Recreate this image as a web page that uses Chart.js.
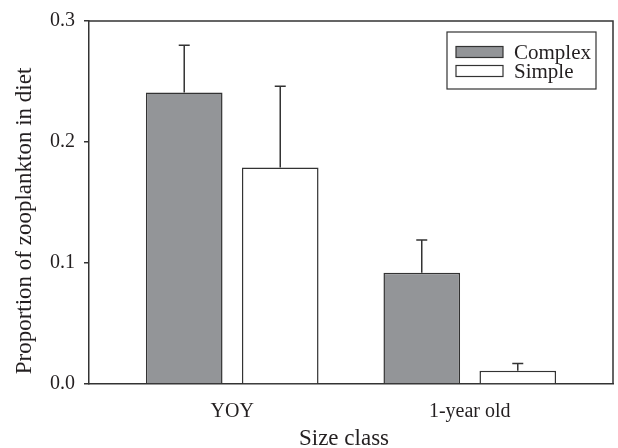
<!DOCTYPE html>
<html>
<head>
<meta charset="utf-8">
<script src="https://cdn.jsdelivr.net/npm/chart.js@4.4.0/dist/chart.umd.min.js"></script>
<style>
  html, body { margin: 0; padding: 0; background: #fff; }
  #wrap { width: 618px; height: 448px; position: relative; }
</style>
</head>
<body>
<div id="wrap"><canvas id="c" width="618" height="448"></canvas></div>
<script>
// Size classes and diet proportions (mean and upper error)
const categories = ['YOY', '1-year old'];
const complexValues = [0.241, 0.092];
const complexErrors = [0.039, 0.027];
const simpleValues = [0.179, 0.011];
const simpleErrors = [0.067, 0.006];
const yTicks = [0.0, 0.1, 0.2, 0.3];

const INK = '#231f20';
const LINE = '#333333';
const SERIF = '"Liberation Serif", "Times New Roman", serif';

const toPoints = vals => vals.map((v, i) => ({ x: i, y: v }));

// upward-only error bars with a small cap
const errorBars = {
  id: 'errorBars',
  afterDatasetsDraw(chart) {
    const ctx = chart.ctx;
    const ys = chart.scales.y;
    ctx.save();
    ctx.strokeStyle = LINE;
    ctx.lineWidth = 1.5;
    chart.data.datasets.forEach((ds, di) => {
      const meta = chart.getDatasetMeta(di);
      meta.data.forEach((bar, i) => {
        const v = ds.data[i].y;
        const top = ys.getPixelForValue(v + ds.errors[i]);
        const base = ys.getPixelForValue(v);
        ctx.beginPath();
        ctx.moveTo(bar.x, base);
        ctx.lineTo(bar.x, top);
        ctx.moveTo(bar.x - 5.5, top);
        ctx.lineTo(bar.x + 5.5, top);
        ctx.stroke();
      });
    });
    ctx.restore();
  }
};

// closing top/right frame, legend box and axis titles
const decorations = {
  id: 'decorations',
  afterDraw(chart) {
    const ctx = chart.ctx;
    const a = chart.chartArea;
    ctx.save();
    ctx.strokeStyle = LINE;
    ctx.lineWidth = 1.5;
    ctx.beginPath();
    ctx.moveTo(a.left, a.top);
    ctx.lineTo(a.right, a.top);
    ctx.lineTo(a.right, a.bottom);
    ctx.stroke();

    // legend
    const lx = 447, ly = 32, lw = 149, lh = 57;
    ctx.lineWidth = 1.2;
    ctx.strokeRect(lx, ly, lw, lh);
    chart.data.datasets.forEach((ds, i) => {
      const rowY = 52 + i * 19;
      ctx.fillStyle = ds.backgroundColor;
      ctx.fillRect(456, rowY - 5.5, 47, 11);
      ctx.strokeStyle = LINE;
      ctx.lineWidth = 1.2;
      ctx.strokeRect(456, rowY - 5.5, 47, 11);
      ctx.fillStyle = INK;
      ctx.font = '21px ' + SERIF;
      ctx.textAlign = 'left';
      ctx.textBaseline = 'middle';
      ctx.fillText(ds.label, 514, rowY + 1);
    });

    // axis titles
    ctx.fillStyle = INK;
    ctx.font = '23px ' + SERIF;
    ctx.textAlign = 'center';
    ctx.textBaseline = 'alphabetic';
    ctx.fillText('Size class', 344, 445);
    ctx.translate(31, 221);
    ctx.rotate(-Math.PI / 2);
    ctx.fillText('Proportion of zooplankton in diet', 0, 0);
    ctx.restore();
  }
};

new Chart(document.getElementById('c'), {
  type: 'bar',
  data: {
    datasets: [
      {
        label: 'Complex',
        data: toPoints(complexValues),
        errors: complexErrors,
        backgroundColor: '#939598',
        borderColor: LINE,
        borderWidth: 1.5,
        categoryPercentage: 0.8084,
        barPercentage: 0.798
      },
      {
        label: 'Simple',
        data: toPoints(simpleValues),
        errors: simpleErrors,
        backgroundColor: '#ffffff',
        borderColor: LINE,
        borderWidth: 1.5,
        categoryPercentage: 0.8084,
        barPercentage: 0.798
      }
    ]
  },
  options: {
    responsive: false,
    animation: false,
    events: [],
    layout: { padding: { top: 19, right: 5, left: 0, bottom: 0 } },
    plugins: { legend: { display: false }, tooltip: { enabled: false } },
    scales: {
      x: {
        type: 'linear',
        min: -0.603,
        max: 1.603,
        offset: false,
        afterBuildTicks: s => { s.ticks = categories.map((_, i) => ({ value: i })); },
        afterFit: s => { s.height = 64; },
        grid: { display: false },
        border: { display: true, color: LINE, width: 1.5 },
        ticks: {
          callback: v => categories[v],
          color: INK,
          font: { family: SERIF, size: 20 },
          padding: 8,
          maxRotation: 0,
          autoSkip: false
        }
      },
      y: {
        min: 0,
        max: 0.3,
        afterBuildTicks: s => { s.ticks = yTicks.map(v => ({ value: v })); },
        afterFit: s => { s.width = 89; },
        grid: { drawOnChartArea: false, drawTicks: true, tickLength: 5, color: LINE, lineWidth: 1.5 },
        border: { display: true, color: LINE, width: 1.5 },
        ticks: {
          callback: v => v.toFixed(1),
          color: INK,
          font: { family: SERIF, size: 20 },
          padding: 9
        }
      }
    }
  },
  plugins: [errorBars, decorations]
});
</script>
</body>
</html>
